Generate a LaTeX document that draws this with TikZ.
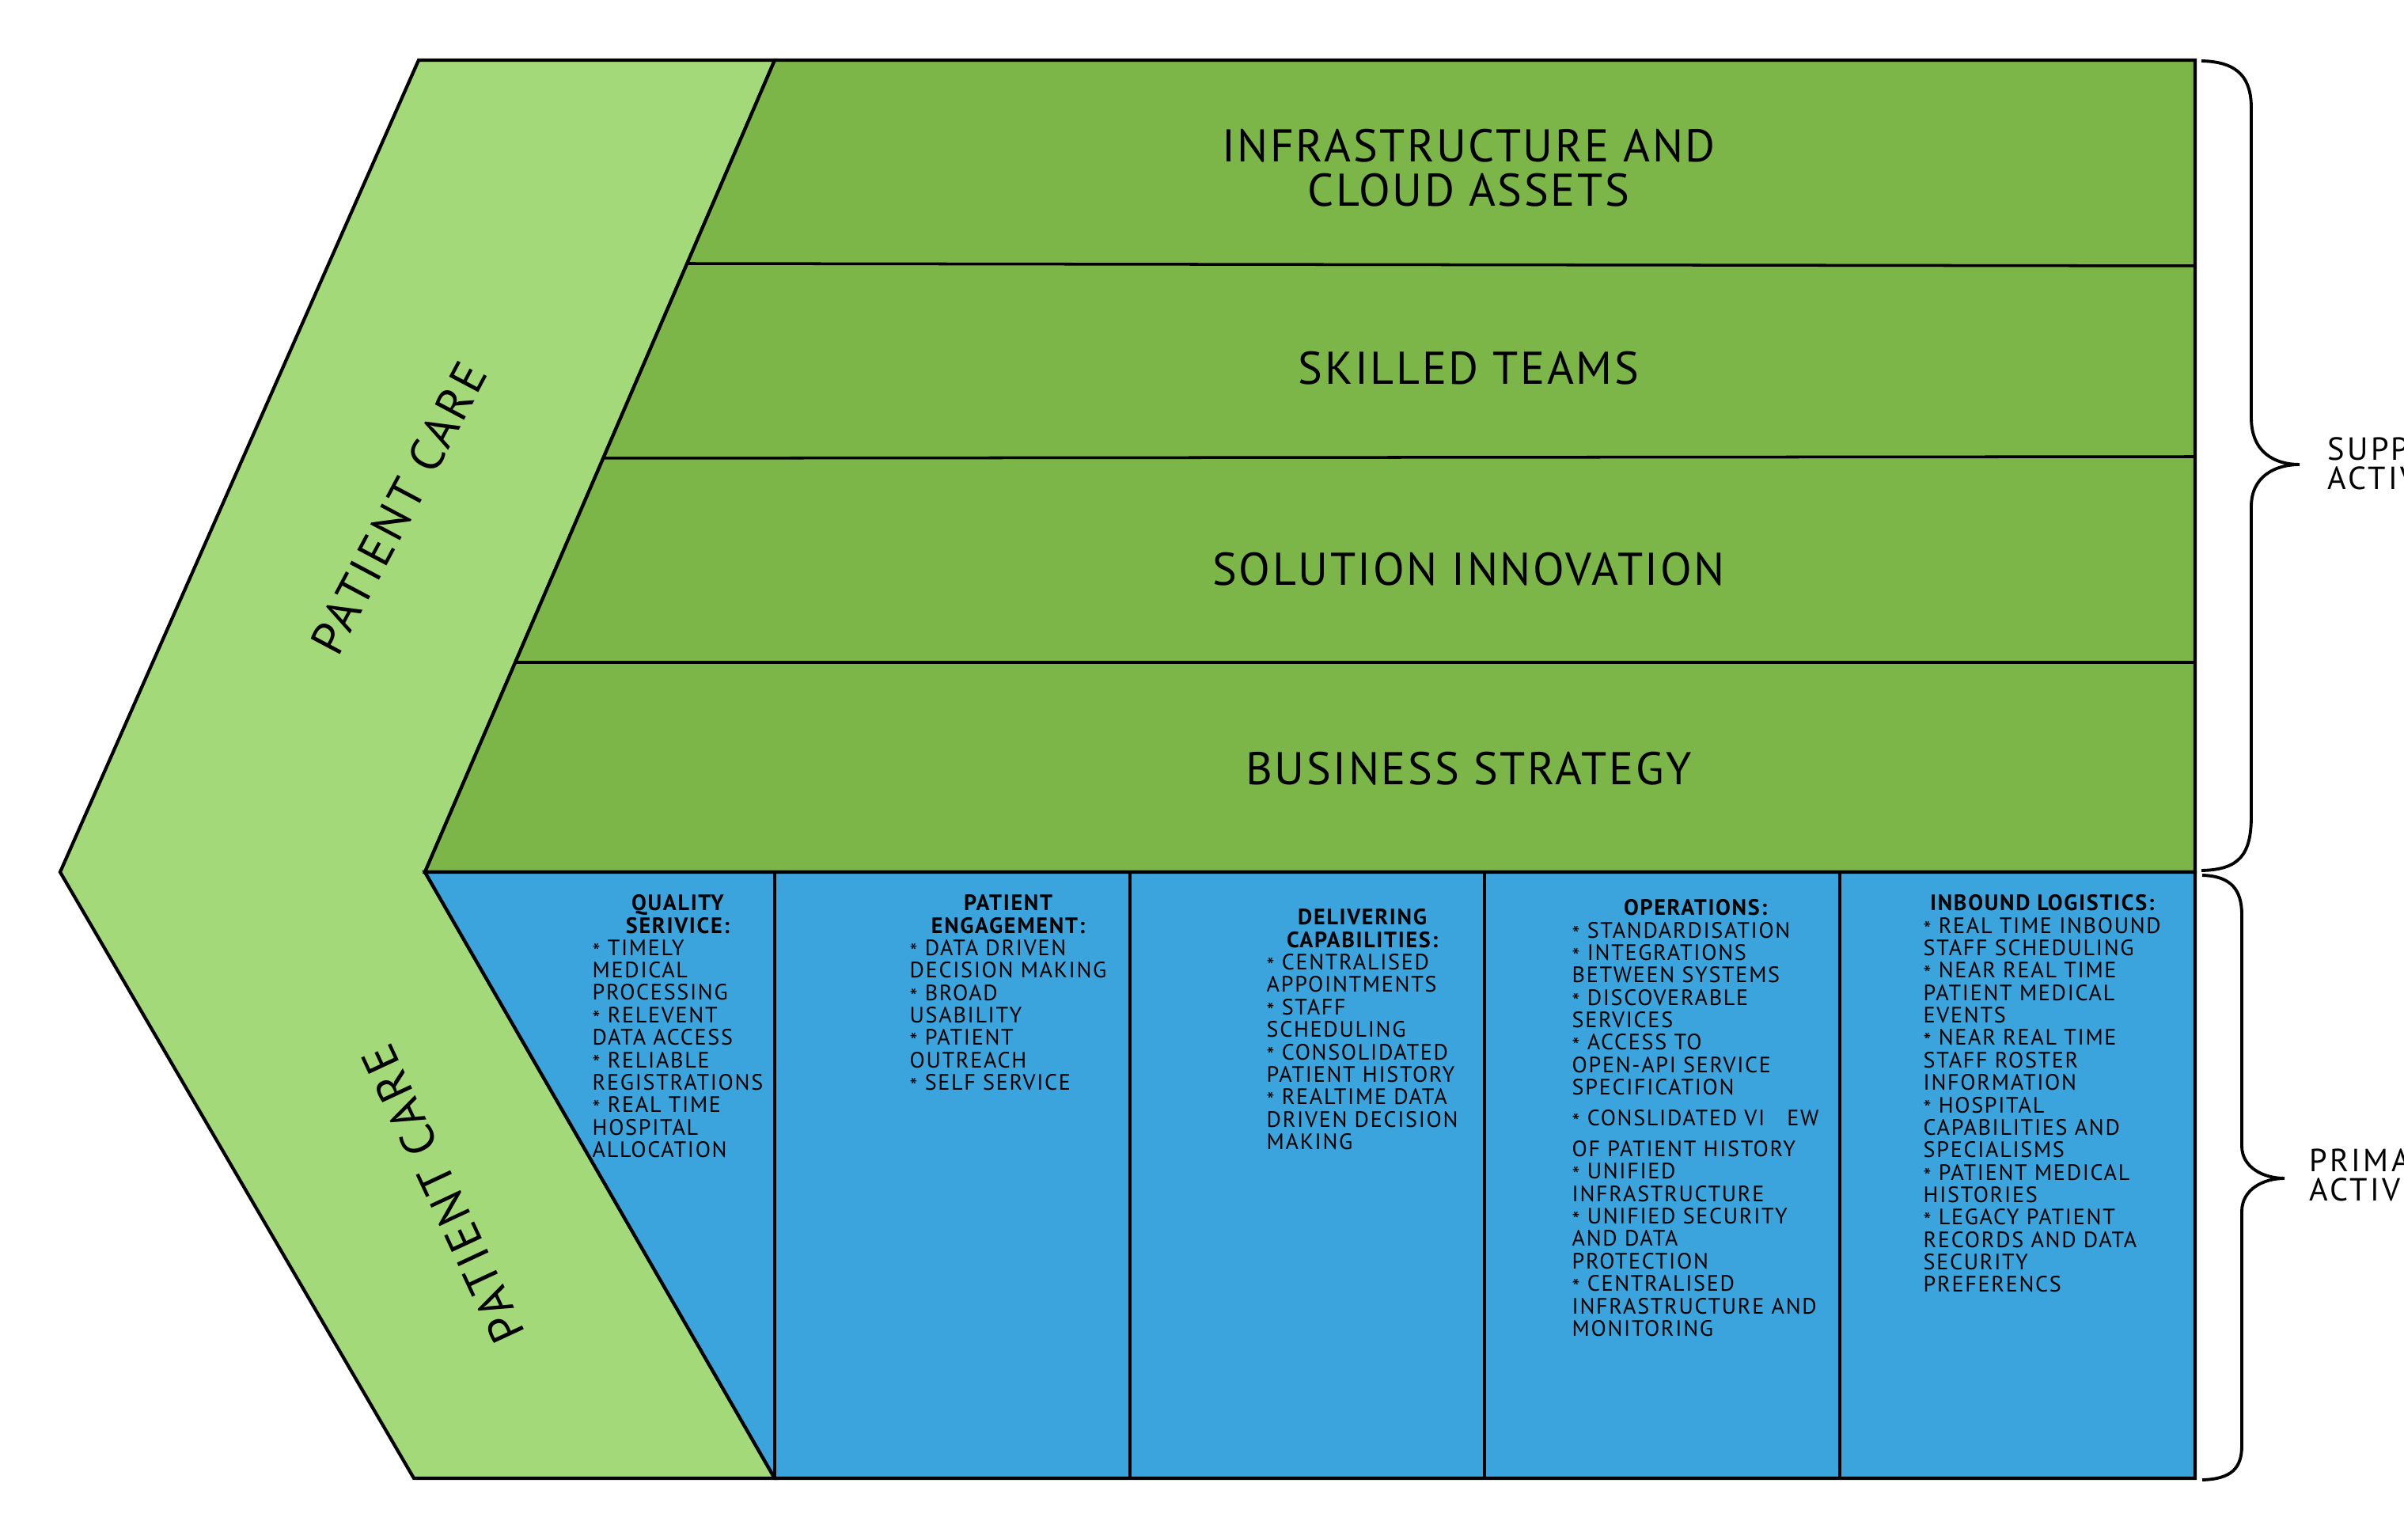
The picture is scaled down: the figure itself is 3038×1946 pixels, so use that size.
\documentclass[tikz,border=0pt]{standalone}
\usepackage{fontspec}
\setmainfont{PT Sans}
\newfontfamily\bandfont{PT Sans}[LetterSpace=4.5]
\newfontfamily\colfont{PT Sans}[LetterSpace=6]
\newfontfamily\armfont{PT Sans}[LetterSpace=6.5]
\newfontfamily\sidefont{PT Sans}[LetterSpace=8]
\definecolor{chevron}{HTML}{A4D97A}
\definecolor{support}{HTML}{7CB548}
\definecolor{primary}{HTML}{3BA4DD}
\newcommand\bstar{\raisebox{-0.35ex}{*}}
\newcommand\hd[1]{\multicolumn{1}{@{}c@{}}{\bfseries #1}}
\begin{document}
\begin{tikzpicture}[x=0.01cm,y=-0.01cm,line join=miter,
  outline/.style={draw=black,line width=1.2pt},
  bandlabel/.style={font=\bandfont\fontsize{16.5}{16}\selectfont,align=center},
  armlabel/.style={font=\armfont\fontsize{17}{18}\selectfont},
  coltext/.style={font=\colfont\fontsize{8}{7.9}\selectfont,anchor=north west,inner sep=0pt},
  sidelabel/.style={font=\sidefont\fontsize{11.5}{10.5}\selectfont,align=left,anchor=west,inner sep=0pt},
  bracepath/.style={draw=black,line width=1.1pt}]

% page
\fill[white] (0,0) rectangle (3038,1946);
\useasboundingbox (0,0) rectangle (3038,1946);
\clip (0,0) rectangle (3038,1946);

% key points of the value chain
\coordinate (tl) at (529,76);
\coordinate (tip) at (76,1102);
\coordinate (bl) at (523,1868);
\coordinate (notch) at (537,1102);
\coordinate (st) at (979,76);
\coordinate (sr) at (2774,76);
\coordinate (mr) at (2774,1102);
\coordinate (br) at (2774,1868);
\coordinate (pb) at (979,1868);

% chevron arms
\path[fill=chevron,outline] (tl) -- (st) -- (notch) -- (pb) -- (bl) -- (tip) -- cycle;
% support activities band
\path[fill=support,outline] (st) -- (sr) -- (mr) -- (notch) -- cycle;
% primary activities band
\path[fill=primary,outline] (notch) -- (mr) -- (br) -- (pb) -- cycle;

% support rows
\draw[line width=1pt] (869,333) -- (2774,336);
\draw[line width=1pt] (761,579) -- (2774,577);
\draw[line width=1pt] (651,837) -- (2774,837);

% primary columns
\foreach \xx in {979,1428,1876,2325}
  \draw[line width=1.2pt] (\xx,1102) -- (\xx,1868);

% support labels
\node[bandlabel] (infra) at (1856,212) {INFRASTRUCTURE AND\\CLOUD ASSETS};
\node[bandlabel] (teams) at (1856,465) {SKILLED TEAMS};
\node[bandlabel] (innov) at (1856,719) {SOLUTION INNOVATION};
\node[bandlabel] (strat) at (1856,971) {BUSINESS STRATEGY};

% arm labels
\node[armlabel,rotate=62] (careup) at (504,642) {PATIENT CARE};
\node[armlabel,rotate=115] (caredown) at (560,1509) {PATIENT CARE};

% primary activities
\node[coltext] (quality) at (748,1130) {\begin{tabular}{@{}l@{}}
\hd{QUALITY}\\ \hd{SERIVICE:}\\
\bstar{} TIMELY\\ MEDICAL\\ PROCESSING\\
\bstar{} RELEVENT\\ DATA ACCESS\\
\bstar{} RELIABLE\\ REGISTRATIONS\\
\bstar{} REAL TIME\\ HOSPITAL\\ ALLOCATION
\end{tabular}};

\node[coltext] (engage) at (1149,1130) {\begin{tabular}{@{}l@{}}
\hd{PATIENT}\\ \hd{ENGAGEMENT:}\\
\bstar{} DATA DRIVEN\\ DECISION MAKING\\
\bstar{} BROAD\\ USABILITY\\
\bstar{} PATIENT\\ OUTREACH\\
\bstar{} SELF SERVICE
\end{tabular}};

\node[coltext] (deliver) at (1600,1148) {\begin{tabular}{@{}l@{}}
\hd{DELIVERING}\\ \hd{CAPABILITIES:}\\
\bstar{} CENTRALISED\\ APPOINTMENTS\\
\bstar{} STAFF\\ SCHEDULING\\
\bstar{} CONSOLIDATED\\ PATIENT HISTORY\\
\bstar{} REALTIME DATA\\ DRIVEN DECISION\\ MAKING
\end{tabular}};

\node[coltext] (ops) at (1986,1136) {\begin{tabular}{@{}l@{}}
\hd{OPERATIONS:}\\
\bstar{} STANDARDISATION\\
\bstar{} INTEGRATIONS\\ BETWEEN SYSTEMS\\
\bstar{} DISCOVERABLE\\ SERVICES\\
\bstar{} ACCESS TO\\ OPEN-API SERVICE\\ SPECIFICATION\\[3pt]
\bstar{} CONSLIDATED VI\hspace{1em}EW\\[3pt]
OF PATIENT HISTORY\\
\bstar{} UNIFIED\\ INFRASTRUCTURE\\
\bstar{} UNIFIED SECURITY\\ AND DATA\\ PROTECTION\\
\bstar{} CENTRALISED\\ INFRASTRUCTURE AND\\ MONITORING
\end{tabular}};

\node[coltext] (inbound) at (2430,1130) {\begin{tabular}{@{}l@{}}
\hd{INBOUND LOGISTICS:}\\
\bstar{} REAL TIME INBOUND\\ STAFF SCHEDULING\\
\bstar{} NEAR REAL TIME\\ PATIENT MEDICAL\\ EVENTS\\
\bstar{} NEAR REAL TIME\\ STAFF ROSTER\\ INFORMATION\\
\bstar{} HOSPITAL\\ CAPABILITIES AND\\ SPECIALISMS\\
\bstar{} PATIENT MEDICAL\\ HISTORIES\\
\bstar{} LEGACY PATIENT\\ RECORDS AND DATA\\ SECURITY\\ PREFERENCS
\end{tabular}};

% braces
\draw[bracepath] (2782,77) .. controls (2830,78) and (2845,100) .. (2845,137)
  -- (2845,528) .. controls (2845,572) and (2875,587) .. (2906,587)
  .. controls (2875,587) and (2845,602) .. (2845,640)
  -- (2845,1031) .. controls (2845,1080) and (2830,1099) .. (2782,1100);
\draw[bracepath] (2783,1106) .. controls (2820,1107) and (2833,1125) .. (2833,1156)
  -- (2833,1448) .. controls (2833,1475) and (2860,1489) .. (2887,1489)
  .. controls (2860,1489) and (2833,1503) .. (2833,1531)
  -- (2833,1827) .. controls (2833,1855) and (2820,1869) .. (2783,1870);

\node[sidelabel] (supportlbl) at (2941,586) {SUPPORT\\ACTIVITIES};
\node[sidelabel] (primarylbl) at (2918,1485) {PRIMARY\\ACTIVITIES};
\end{tikzpicture}
\end{document}
